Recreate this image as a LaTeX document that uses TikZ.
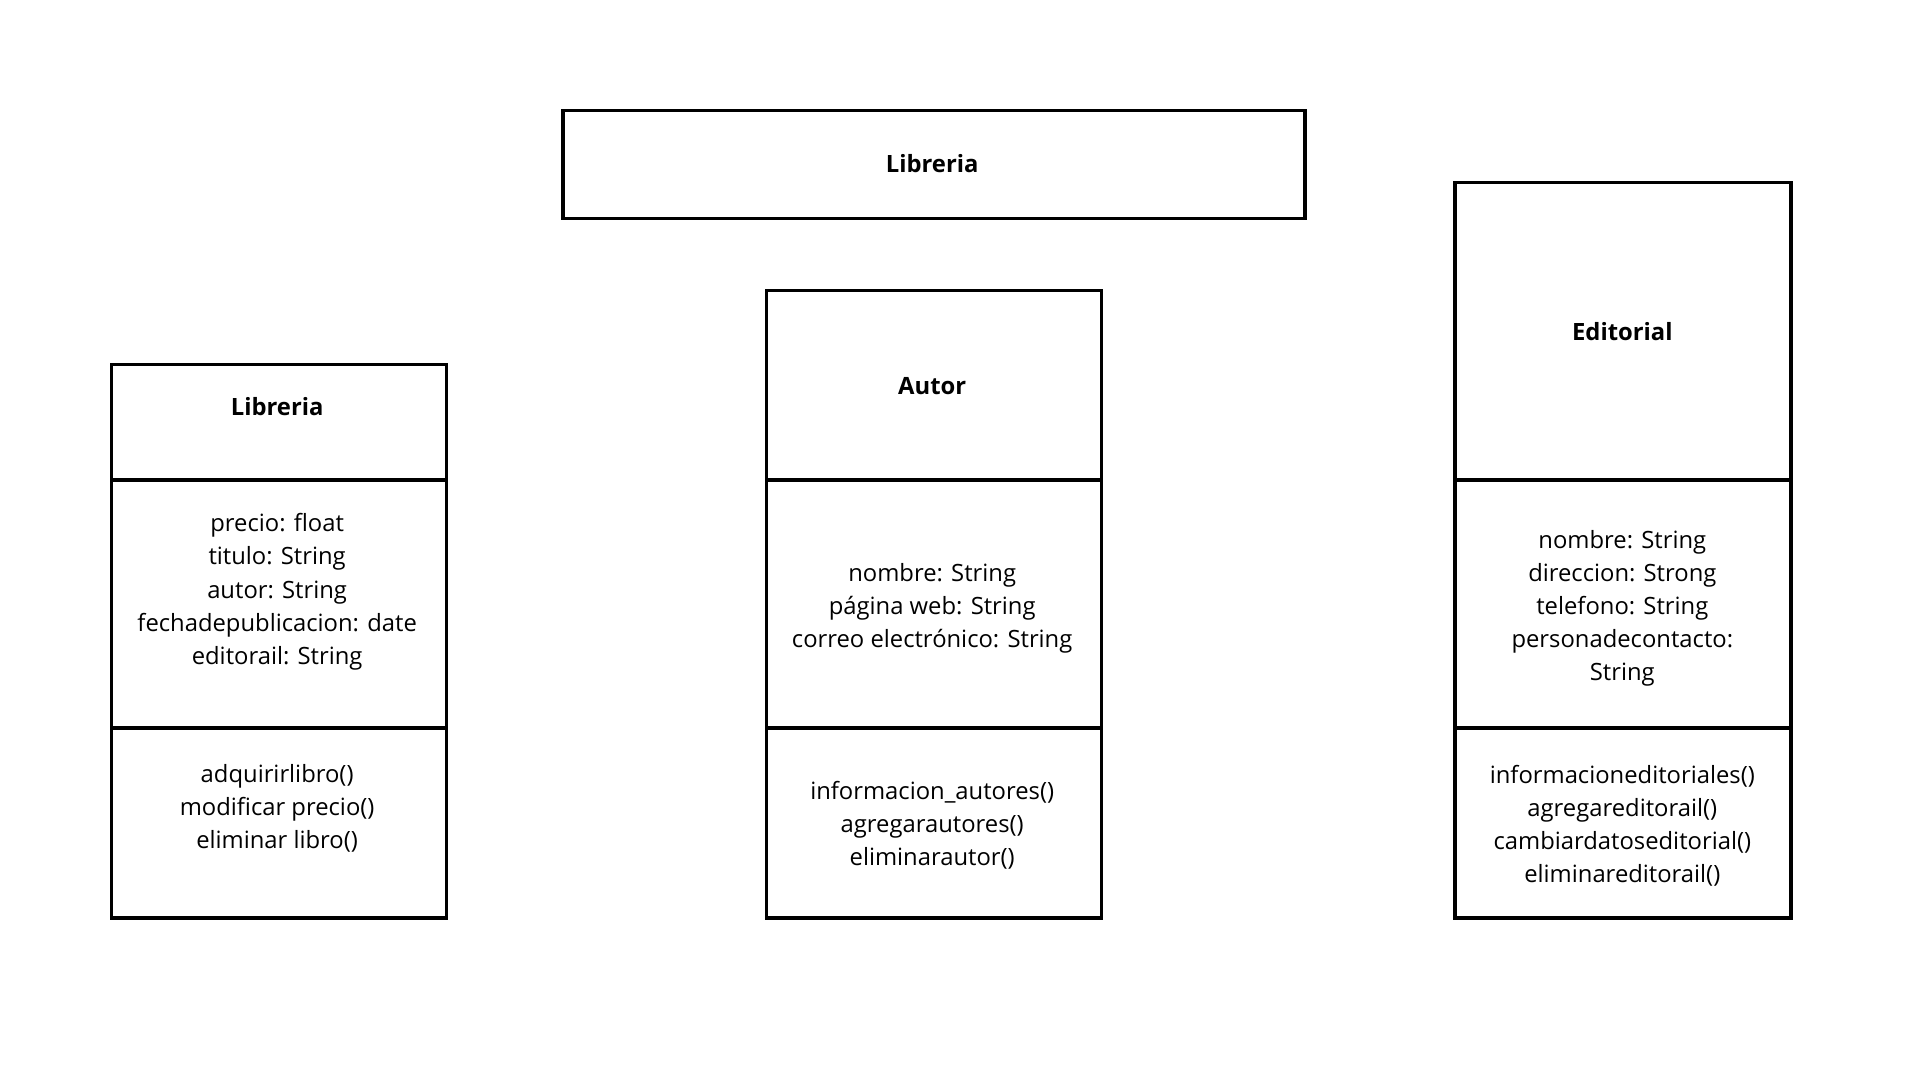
\documentclass[tikz,border=0pt]{standalone}
\usepackage{fontspec}
\setmainfont{Open Sans}
\begin{document}
\begin{tikzpicture}[x=0.988pt,y=-0.988pt,
  box/.style={draw=black,line width=3.5pt,inner sep=0pt,anchor=north west},
  ttl/.style={font=\fontsize{23.8}{33.1}\selectfont\bfseries,align=center},
  txt/.style={font=\fontsize{23.8}{33.1}\selectfont,align=center}]
\useasboundingbox (0,0) rectangle (1943.3,1093.1);
\fill[white] (0,0) rectangle (1943.3,1093.1);
% top box
\node[box,minimum width=742pt,minimum height=108pt] (top) at (568,110) {};
\node[ttl] (toptxt) at (943.5,166) {Libreria};
% left class
\node[box,minimum width=335pt,minimum height=116pt] (l1) at (111,367) {};
\node[box,minimum width=335pt,minimum height=248pt] (l2) at (111,484) {};
\node[box,minimum width=335pt,minimum height=190pt] (l3) at (111,735) {};
\node[ttl] (l1t) at (280.5,411) {Libreria};
\node[txt] (l2t) at (280.5,599) {precio: float\\titulo: String\\autor: String\\fechadepublicacion: date\\editorail: String};
\node[txt] (l3t) at (280.5,818.5) {adquirirlibro()\\modificar precio()\\eliminar libro()};
% middle class
\node[box,minimum width=335pt,minimum height=190pt] (m1) at (774,292) {};
\node[box,minimum width=335pt,minimum height=248pt] (m2) at (774,484) {};
\node[box,minimum width=335pt,minimum height=190pt] (m3) at (774,735) {};
\node[ttl] (m1t) at (943.5,390.5) {Autor};
\node[txt] (m2t) at (943.5,615.5) {nombre: String\\página web: String\\correo electrónico: String};
\node[txt] (m3t) at (943.5,835.5) {informacion\_autores()\\agregarautores()\\eliminarautor()};
% right class
\node[box,minimum width=336pt,minimum height=297pt] (r1) at (1471,183) {};
\node[box,minimum width=336pt,minimum height=248pt] (r2) at (1471,484) {};
\node[box,minimum width=336pt,minimum height=190pt] (r3) at (1471,735) {};
\node[ttl] (r1t) at (1642,336) {Editorial};
\node[txt] (r2t) at (1642,615.5) {nombre: String\\direccion: Strong\\telefono: String\\personadecontacto:\\String};
\node[txt] (r3t) at (1642,835.5) {informacioneditoriales()\\agregareditorail()\\cambiardatoseditorial()\\eliminareditorail()};
\end{tikzpicture}
\end{document}
